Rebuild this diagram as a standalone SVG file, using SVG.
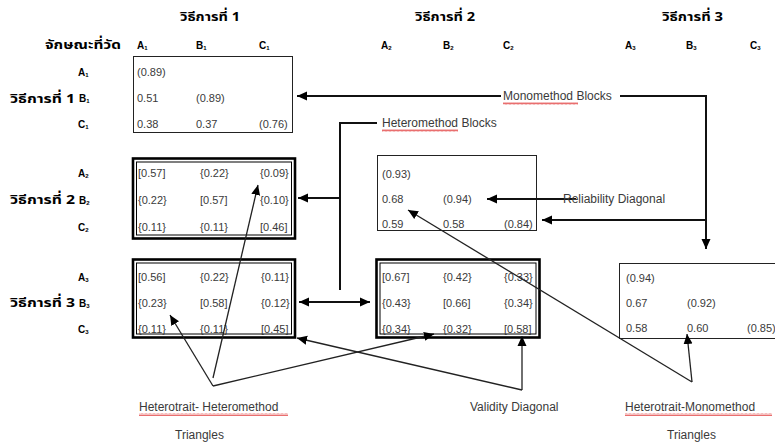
<svg xmlns="http://www.w3.org/2000/svg" width="775" height="444" viewBox="0 0 775 444">
<style>
.th{font-family:"Noto Sans Thai","Noto Sans Thai UI","Tahoma","DejaVu Sans",sans-serif;font-weight:bold;font-size:13px;fill:#000}
.lab{font-family:"Liberation Sans",Arial,sans-serif;font-weight:bold;font-size:10px;fill:#000}
.sub{font-size:6px}
.v{font-family:"Liberation Sans",Arial,sans-serif;font-size:11px;fill:#3a3a3a}
.t{font-family:"Liberation Sans",Arial,sans-serif;font-size:12px;fill:#3a3a3a}
.box{fill:#fff;stroke:#222;stroke-width:1}
.dbo{fill:#fff;stroke:#000;stroke-width:2.6}
.dbi{fill:none;stroke:#000;stroke-width:1}
.c{fill:none;stroke:#111;stroke-width:2}
.d{fill:none;stroke:#222;stroke-width:1.3}
.sq{fill:url(#squig)}
</style>
<defs>
<marker id="ar" markerUnits="userSpaceOnUse" markerWidth="11" markerHeight="10" refX="10" refY="5" orient="auto">
<path d="M0,0.5 L10,5 L0,9.5 z" fill="#000"/>
</marker>
<pattern id="squig" patternUnits="userSpaceOnUse" width="4" height="3">
<path d="M0,2.5 L1,0.5 L2,2.5 L3,0.5 L4,2.5" fill="none" stroke="#e03030" stroke-width="0.7"/>
</pattern>
</defs>

<rect width="775" height="444" fill="#fff"/>

<g id="headers">
<text class="th" x="180" y="21" textLength="60" lengthAdjust="spacingAndGlyphs">วิธีการที่ 1</text>
<text class="th" x="415" y="21" textLength="60" lengthAdjust="spacingAndGlyphs">วิธีการที่ 2</text>
<text class="th" x="662" y="21" textLength="61" lengthAdjust="spacingAndGlyphs">วิธีการที่ 3</text>
<text class="th" x="45" y="49" textLength="76" lengthAdjust="spacingAndGlyphs">จักษณะที่วัด</text>
<text class="lab" x="137" y="49">A<tspan class="sub" dy="1">1</tspan></text>
<text class="lab" x="196" y="49">B<tspan class="sub" dy="1">1</tspan></text>
<text class="lab" x="259" y="49">C<tspan class="sub" dy="1">1</tspan></text>
<text class="lab" x="381" y="49">A<tspan class="sub" dy="1">2</tspan></text>
<text class="lab" x="443" y="49">B<tspan class="sub" dy="1">2</tspan></text>
<text class="lab" x="503" y="49">C<tspan class="sub" dy="1">2</tspan></text>
<text class="lab" x="625" y="49">A<tspan class="sub" dy="1">3</tspan></text>
<text class="lab" x="686" y="49">B<tspan class="sub" dy="1">3</tspan></text>
<text class="lab" x="750" y="49">C<tspan class="sub" dy="1">3</tspan></text>
</g>

<g id="rowlabels">
<text class="lab" x="78" y="76">A<tspan class="sub" dy="1">1</tspan></text>
<text class="th" x="10" y="103" textLength="65" lengthAdjust="spacingAndGlyphs">วิธีการที่ 1</text>
<text class="lab" x="79" y="102">B<tspan class="sub" dy="1">1</tspan></text>
<text class="lab" x="78" y="128">C<tspan class="sub" dy="1">1</tspan></text>
<text class="lab" x="78" y="177">A<tspan class="sub" dy="1">2</tspan></text>
<text class="th" x="10" y="204" textLength="65" lengthAdjust="spacingAndGlyphs">วิธีการที่ 2</text>
<text class="lab" x="79" y="204">B<tspan class="sub" dy="1">2</tspan></text>
<text class="lab" x="78" y="231">C<tspan class="sub" dy="1">2</tspan></text>
<text class="lab" x="78" y="281">A<tspan class="sub" dy="1">3</tspan></text>
<text class="th" x="10" y="307" textLength="65" lengthAdjust="spacingAndGlyphs">วิธีการที่ 3</text>
<text class="lab" x="79" y="307">B<tspan class="sub" dy="1">3</tspan></text>
<text class="lab" x="78" y="333">C<tspan class="sub" dy="1">3</tspan></text>
</g>

<g id="block11">
<rect class="box" x="133.5" y="56.5" width="159" height="76"/>
<text class="v" x="137" y="76">(0.89)</text>
<text class="v" x="137" y="102">0.51</text>
<text class="v" x="196" y="102">(0.89)</text>
<text class="v" x="137" y="128">0.38</text>
<text class="v" x="196" y="128">0.37</text>
<text class="v" x="259" y="128">(0.76)</text>
</g>

<g id="block21">
<rect class="dbo" x="133" y="158.5" width="162" height="80"/>
<rect class="dbi" x="136.5" y="162" width="155" height="73"/>
<text class="v" x="138" y="177">[0.57]</text>
<text class="v" x="200" y="177">{0.22}</text>
<text class="v" x="260" y="177">{0.09}</text>
<text class="v" x="138" y="204">{0.22}</text>
<text class="v" x="200" y="204">[0.57]</text>
<text class="v" x="260" y="204">{0.10}</text>
<text class="v" x="138" y="231">{0.11}</text>
<text class="v" x="200" y="231">{0.11}</text>
<text class="v" x="260" y="231">[0.46]</text>
</g>

<g id="block22">
<rect class="box" x="377.5" y="155.5" width="159" height="75"/>
<text class="v" x="382" y="178">(0.93)</text>
<text class="v" x="382" y="203">0.68</text>
<text class="v" x="443" y="203">(0.94)</text>
<text class="v" x="382" y="228">0.59</text>
<text class="v" x="443" y="228">0.58</text>
<text class="v" x="504" y="228">(0.84)</text>
</g>

<g id="block31">
<rect class="dbo" x="133" y="259.5" width="162" height="78"/>
<rect class="dbi" x="136.5" y="263" width="155" height="71"/>
<text class="v" x="138" y="281">[0.56]</text>
<text class="v" x="200" y="281">{0.22}</text>
<text class="v" x="261" y="281">{0.11}</text>
<text class="v" x="138" y="307">{0.23}</text>
<text class="v" x="200" y="307">[0.58]</text>
<text class="v" x="261" y="307">{0.12}</text>
<text class="v" x="138" y="333">{0.11}</text>
<text class="v" x="200" y="333">{0.11}</text>
<text class="v" x="261" y="333">[0.45]</text>
</g>

<g id="block32">
<rect class="dbo" x="376.5" y="259.5" width="163" height="78"/>
<rect class="dbi" x="380" y="263" width="156" height="71"/>
<text class="v" x="382" y="281">[0.67]</text>
<text class="v" x="443" y="281">{0.42}</text>
<text class="v" x="504" y="281">{0.33}</text>
<text class="v" x="382" y="307">{0.43}</text>
<text class="v" x="443" y="307">[0.66]</text>
<text class="v" x="504" y="307">{0.34}</text>
<text class="v" x="382" y="333">{0.34}</text>
<text class="v" x="443" y="333">{0.32}</text>
<text class="v" x="504" y="333">[0.58]</text>
</g>

<g id="block33">
<rect class="box" x="619.5" y="263.5" width="170" height="75"/>
<text class="v" x="626" y="282">(0.94)</text>
<text class="v" x="626" y="307">0.67</text>
<text class="v" x="687" y="307">(0.92)</text>
<text class="v" x="626" y="332">0.58</text>
<text class="v" x="687" y="332">0.60</text>
<text class="v" x="747" y="332">(0.85)</text>
</g>

<g id="connectors">
<line class="c" x1="501" y1="96" x2="297" y2="96" marker-end="url(#ar)"/>
<polyline class="c" points="620,96 706,96 706,249" marker-end="url(#ar)"/>
<line class="c" x1="706" y1="220" x2="542" y2="220" marker-end="url(#ar)"/>
<polyline class="c" points="377,123 340,123 340,290"/>
<line class="c" x1="340" y1="198" x2="298" y2="198" marker-end="url(#ar)"/>
<line class="c" x1="334" y1="302" x2="299" y2="302" marker-end="url(#ar)"/>
<line class="c" x1="334" y1="302" x2="370" y2="302" marker-end="url(#ar)"/>
<line class="c" x1="576" y1="199" x2="487" y2="199" marker-end="url(#ar)"/>
<line class="d" x1="213" y1="386" x2="170" y2="315" marker-end="url(#ar)"/>
<line class="d" x1="213" y1="378" x2="258" y2="185" marker-end="url(#ar)"/>
<line class="d" x1="213" y1="386" x2="434" y2="334" marker-end="url(#ar)"/>
<line class="d" x1="522" y1="390" x2="297" y2="338" marker-end="url(#ar)"/>
<line class="d" x1="522" y1="390" x2="522" y2="336" marker-end="url(#ar)"/>
<line class="d" x1="692" y1="382" x2="408" y2="210" marker-end="url(#ar)"/>
<line class="d" x1="692" y1="382" x2="687" y2="334" marker-end="url(#ar)"/>
</g>

<g id="labels">
<rect x="501" y="90" width="118" height="13" fill="#fff"/>
<text class="t" x="503" y="100">Monomethod Blocks</text>
<rect class="sq" x="503" y="102" width="75" height="3"/>
<text class="t" x="382" y="127">Heteromethod Blocks</text>
<rect class="sq" x="382" y="129" width="76" height="3"/>
<text class="t" x="563" y="203">Reliability Diagonal</text>
<text class="t" x="139" y="411">Heterotrait- Heteromethod</text>
<rect class="sq" x="139" y="413" width="149" height="3"/>
<text class="t" x="175" y="439">Triangles</text>
<text class="t" x="470" y="411">Validity Diagonal</text>
<text class="t" x="625" y="411">Heterotrait-Monomethod</text>
<rect class="sq" x="625" y="413" width="147" height="3"/>
<text class="t" x="667" y="439">Triangles</text>
</g>
</svg>
